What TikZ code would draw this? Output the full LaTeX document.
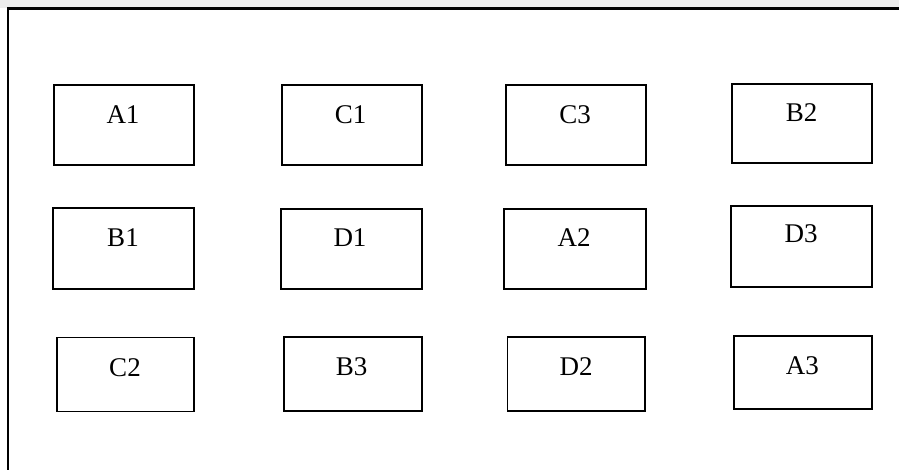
\documentclass[tikz,border=0pt]{standalone}
\usepackage{fontspec}
\setmainfont{Liberation Serif}
\begin{document}
\begin{tikzpicture}[x=1pt,y=-1pt,
  cell/.style={draw, line width=1.9pt, inner sep=0pt, minimum width=140pt, minimum height=80pt},
  lowcell/.style={cell, minimum width=137.6pt, minimum height=74pt},
  lbl/.style={anchor=base, inner sep=0pt, font=\fontsize{27}{30}\selectfont}]
\useasboundingbox (0,0) rectangle (899,470);
\fill[gray!15] (0,0) rectangle (899,8);
\clip (0,0) rectangle (899,470);
\draw[line width=2.3pt] (8,490) -- (8,8.5) -- (910,8.5);
% row 1
\node[cell] (A1) at (124.3,125) {};
\node[cell] (C1) at (352,125) {};
\node[cell] (C3) at (575.7,125) {};
\node[cell, minimum height=79pt] (B2) at (802,123.5) {};
\node[lbl] (A1t) at (123,124) {A1};
\node[lbl] (C1t) at (350.5,124) {C1};
\node[lbl] (C3t) at (575,124) {C3};
\node[lbl] (B2t) at (801.7,121.5) {B2};
% row 2
\node[cell, minimum width=141pt, minimum height=81pt] (B1) at (123.5,248.5) {};
\node[cell, minimum width=141pt] (D1) at (351.2,249) {};
\node[cell, minimum width=141.7pt] (A2) at (574.8,249) {};
\node[cell, minimum width=141pt, minimum height=81pt] (D3) at (801.5,246.5) {};
\node[lbl] (B1t) at (123,246.5) {B1};
\node[lbl] (D1t) at (350,246.7) {D1};
\node[lbl] (A2t) at (574,246.7) {A2};
\node[lbl] (D3t) at (801,243) {D3};
% row 3
\node[lowcell] (C2) at (125.5,374.5) {};
\node[lowcell] (B3) at (353.2,374.2) {};
\node[lowcell] (D2) at (576.3,374) {};
\node[lowcell, minimum height=73.6pt] (A3) at (803.2,372.5) {};
\node[lbl] (C2t) at (125,376) {C2};
\node[lbl] (B3t) at (351.7,375) {B3};
\node[lbl] (D2t) at (576,375) {D2};
\node[lbl] (A3t) at (802.3,374) {A3};
\end{tikzpicture}
\end{document}
